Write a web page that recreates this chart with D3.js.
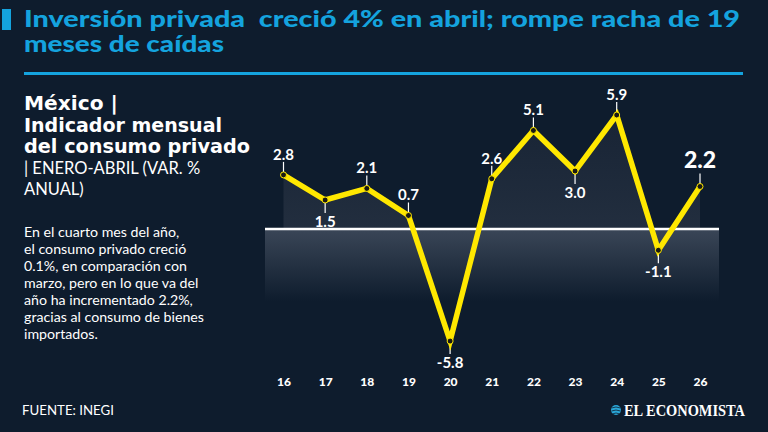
<!DOCTYPE html>
<html>
<head>
<meta charset="utf-8">
<script src="https://cdn.jsdelivr.net/npm/d3@7"></script>
<style>
  html, body { margin: 0; padding: 0; background: #0e1c2d; }
  svg { display: block; }
</style>
</head>
<body>
<div id="container"></div>
<script>
const w = 768;
const h = 432;

// data
const years = ["16", "17", "18", "19", "20", "21", "22", "23", "24", "25", "26"];
const values = [2.8, 1.5, 2.1, 0.7, -5.8, 2.6, 5.1, 3.0, 5.9, -1.1, 2.2];
const titleLines = ["Inversión privada  creció 4% en abril; rompe racha de 19", "meses de caídas"];
const headLines = ["México |", "Indicador mensual", "del consumo privado"];
const subLines = ["| ENERO-ABRIL (VAR. %", "ANUAL)"];
const bodyLines = [
  "En el cuarto mes del año,",
  "el consumo privado creció",
  "0.1%, en comparación con",
  "marzo, pero en lo que va del",
  "año ha incrementado 2.2%,",
  "gracias al consumo de bienes",
  "importados."
];
const source = "FUENTE: INEGI";

const svg = d3.select("#container")
  .append("svg")
  .attr("width", w)
  .attr("height", h);

const defs = svg.append("defs");

const gArea = defs.append("linearGradient")
  .attr("id", "gArea")
  .attr("x1", 0).attr("y1", 0).attr("x2", 0).attr("y2", 1);
gArea.append("stop").attr("offset", "0%").attr("stop-color", "#182435");
gArea.append("stop").attr("offset", "100%").attr("stop-color", "#2c3848");

const gBand = defs.append("linearGradient")
  .attr("id", "gBand")
  .attr("x1", 0).attr("y1", 0).attr("x2", 0).attr("y2", 1);
gBand.append("stop").attr("offset", "0%").attr("stop-color", "#3a4657");
gBand.append("stop").attr("offset", "100%").attr("stop-color", "#0e1c2d");

svg.append("rect")
  .attr("width", w)
  .attr("height", h)
  .attr("fill", "#0e1c2d");

// title
svg.append("rect")
  .attr("x", 2).attr("y", 9)
  .attr("width", 9).attr("height", 21)
  .attr("fill", "#14a3de");

svg.selectAll(".title")
  .data(titleLines)
  .enter()
  .append("text")
  .attr("class", "title")
  .attr("x", 24)
  .attr("y", (d, i) => 27 + i * 25)
  .attr("textLength", (d, i) => i == 0 ? 716 : 200)
  .attr("lengthAdjust", "spacingAndGlyphs")
  .style("white-space", "pre")
  .style("font-family", "Lato")
  .style("font-weight", "900")
  .style("font-size", "22px")
  .style("fill", "#14a3de")
  .text(d => d);

svg.append("rect")
  .attr("x", 24).attr("y", 72)
  .attr("width", 719).attr("height", 3)
  .attr("fill", "#14a3de");

// left text
const headW = [94, 198, 226];
svg.selectAll(".head")
  .data(headLines)
  .enter()
  .append("text")
  .attr("class", "head")
  .attr("x", 24)
  .attr("y", (d, i) => 110 + i * 21.5)
  .attr("textLength", (d, i) => headW[i])
  .attr("lengthAdjust", "spacingAndGlyphs")
  .style("font-family", "DejaVu Sans")
  .style("font-weight", "bold")
  .style("font-size", "19px")
  .style("fill", "#ffffff")
  .text(d => d);

svg.selectAll(".sub")
  .data(subLines)
  .enter()
  .append("text")
  .attr("class", "sub")
  .attr("x", 24)
  .attr("y", (d, i) => 174 + i * 21)
  .style("font-family", "Lato")
  .style("font-weight", "400")
  .style("font-size", "16.5px")
  .style("fill", "#ffffff")
  .text(d => d);

svg.selectAll(".body")
  .data(bodyLines)
  .enter()
  .append("text")
  .attr("class", "body")
  .attr("x", 24)
  .attr("y", (d, i) => 237 + i * 17)
  .style("font-family", "Lato")
  .style("font-weight", "400")
  .style("font-size", "14.2px")
  .style("fill", "#ffffff")
  .text(d => d);

// chart
const data = years.map((y, i) => ({ year: y, value: values[i], i: i }));

const xScale = d3.scalePoint()
  .domain(years)
  .range([283.5, 700]);

const yScale = d3.scaleLinear()
  .domain([0, 5.9])
  .range([229, 115]);

const zero = yScale(0);

defs.append("clipPath")
  .attr("id", "above")
  .append("rect")
  .attr("x", 0).attr("y", 0)
  .attr("width", w).attr("height", zero);

const area = d3.area()
  .x(d => xScale(d.year))
  .y0(zero)
  .y1(d => yScale(d.value));

svg.append("path")
  .datum(data)
  .attr("d", area)
  .attr("clip-path", "url(#above)")
  .attr("fill", "url(#gArea)");

svg.append("rect")
  .attr("x", 265)
  .attr("y", zero)
  .attr("width", 454)
  .attr("height", 72)
  .attr("fill", "url(#gBand)");

svg.append("line")
  .attr("x1", 265).attr("x2", 719)
  .attr("y1", zero).attr("y2", zero)
  .attr("stroke", "#ffffff")
  .attr("stroke-width", 2.5);

// x axis labels
const xAxis = d3.axisBottom(xScale).tickSize(0).tickPadding(0);
const ax = svg.append("g")
  .attr("transform", "translate(0,377)")
  .call(xAxis);
ax.select(".domain").remove();
ax.selectAll("text")
  .style("font-family", "Lato")
  .style("font-weight", "900")
  .style("font-size", "12px")
  .style("fill", "#ffffff");

const isLow = (d) => {
  const prev = d.i > 0 ? values[d.i - 1] : Infinity;
  const next = d.i < values.length - 1 ? values[d.i + 1] : Infinity;
  return d.value < prev && d.value < next;
};

// leader lines
svg.selectAll(".leader")
  .data(data)
  .enter()
  .append("line")
  .attr("class", "leader")
  .attr("x1", d => xScale(d.year))
  .attr("x2", d => xScale(d.year))
  .attr("y1", d => yScale(d.value))
  .attr("y2", d => yScale(d.value) + (isLow(d) ? 13 : -13))
  .attr("stroke", "#ffffff")
  .attr("stroke-width", 1.2);

const line = d3.line()
  .x(d => xScale(d.year))
  .y(d => yScale(d.value));

svg.append("path")
  .datum(data)
  .attr("d", line)
  .attr("fill", "none")
  .attr("stroke", "#ffe800")
  .attr("stroke-width", 5.5)
  .attr("stroke-linejoin", "miter");

svg.selectAll(".dot")
  .data(data)
  .enter()
  .append("circle")
  .attr("class", "dot")
  .attr("cx", d => xScale(d.year))
  .attr("cy", d => yScale(d.value))
  .attr("r", 3)
  .attr("fill", "#1a1a14")
  .attr("stroke", "#ffe800")
  .attr("stroke-width", 1);

svg.selectAll(".val")
  .data(data)
  .enter()
  .append("text")
  .attr("class", "val")
  .attr("x", d => xScale(d.year))
  .attr("y", d => {
    if (d.i == values.length - 1) return yScale(d.value) - 18;
    return yScale(d.value) + (isLow(d) ? 27 : -15);
  })
  .attr("text-anchor", "middle")
  .style("font-family", "Lato")
  .style("font-weight", d => d.i == values.length - 1 ? "900" : "700")
  .style("font-size", d => d.i == values.length - 1 ? "23px" : "15px")
  .style("fill", "#ffffff")
  .text(d => d.value.toFixed(1));

// footer
svg.append("text")
  .attr("x", 22)
  .attr("y", 415)
  .attr("textLength", 92)
  .attr("lengthAdjust", "spacingAndGlyphs")
  .style("font-family", "Lato")
  .style("font-size", "13px")
  .style("fill", "#ffffff")
  .text(source);

const logo = svg.append("g");
logo.append("circle")
  .attr("cx", 616).attr("cy", 410)
  .attr("r", 5)
  .attr("fill", "#2aa7d8");
logo.append("path")
  .attr("d", "M611.5,408 Q616,406 620.5,408 M611.5,411 Q616,409 620.5,411 M612,414 Q616,412 620,414")
  .attr("fill", "none")
  .attr("stroke", "#0e1c2d")
  .attr("stroke-width", 0.8);
logo.append("text")
  .attr("x", 624)
  .attr("y", 416)
  .attr("textLength", 121)
  .attr("lengthAdjust", "spacingAndGlyphs")
  .style("font-family", "Liberation Serif")
  .style("font-weight", "bold")
  .style("font-size", "17px")
  .style("fill", "#ffffff")
  .text("EL ECONOMISTA");
</script>
</body>
</html>
